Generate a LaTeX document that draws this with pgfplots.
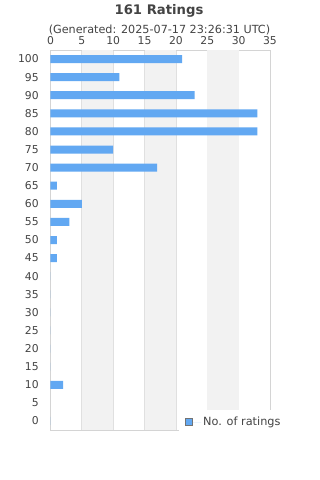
\documentclass[border=0pt]{standalone}
\usepackage{pgfplots}
\pgfplotsset{compat=1.18}
\usepackage{fontspec}
\setmainfont{DejaVu Sans}
\definecolor{txt}{HTML}{444444}
\definecolor{barc}{HTML}{62A8F2}
\definecolor{band}{HTML}{F2F2F2}
\definecolor{gridc}{HTML}{E0E0E0}
\definecolor{axc}{HTML}{D4D4D4}
\begin{document}
\begin{tikzpicture}[x=1pt,y=1pt]
\fill[white] (0,0) rectangle (320,-480);
\node[font=\fontsize{13.2}{15}\selectfont\bfseries, text=txt] at (159,-11) {161 Ratings};
\node[font=\fontsize{11.2}{13}\selectfont, text=txt] at (159.5,-29.5) {(Generated: 2025-07-17 23:26:31 UTC)};
\begin{axis}[
  at={(50.5pt,-50pt)}, anchor=north west,
  width=219.5pt, height=380pt, scale only axis,
  xbar, bar width=8pt,
  xmin=0, xmax=35, ymin=-2.5, ymax=102.5,
  xtick={0,5,...,35}, ytick={0,5,...,100},
  xticklabel pos=upper,
  tick style={draw=none},
  xmajorgrids, grid style={gridc, line width=0.8pt},
  axis line style={axc, line width=0.8pt},
  tick label style={font=\fontsize{10.8}{12}\selectfont, text=txt},
  /pgf/number format/assume math mode=true,
  xticklabel style={yshift=2pt},
  yticklabel style={xshift=-4pt},
  axis on top=false,
  legend style={at={(axis description cs:0.586,0.021)}, anchor=west, fill=white, draw=none,
    font=\fontsize{11.3}{12}\selectfont, text=txt, inner xsep=6pt, inner ysep=5pt},
  legend image code/.code={\draw[fill=barc, draw=gray!90!black, line width=0.5pt] (0pt,-3.5pt) rectangle (7pt,3.5pt); \path (0pt,0pt) -- (15.5pt,0pt);},
]
\fill[band] (axis cs:5,-2.5) rectangle (axis cs:10,102.5);
\fill[band] (axis cs:15,-2.5) rectangle (axis cs:20,102.5);
\fill[band] (axis cs:25,-2.5) rectangle (axis cs:30,102.5);
\addplot[fill=barc, draw=none] coordinates {
(0,0) (2,10) (0,15) (0,20) (0,25) (0,30) (0,35) (0,40)
(1,45) (1,50) (3,55) (5,60) (1,65) (17,70) (10,75) (33,80) (33,85) (23,90) (11,95) (21,100)};
\addlegendentry{No. of ratings}
\end{axis}
\end{tikzpicture}
\end{document}
